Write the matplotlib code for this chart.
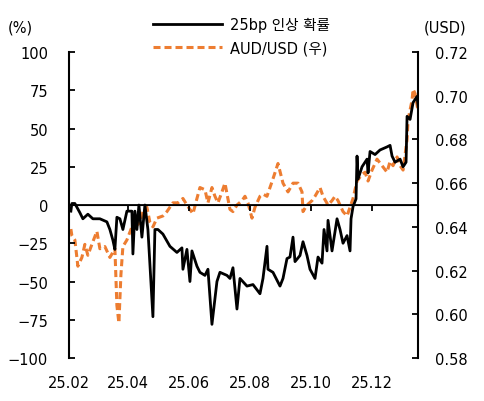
import matplotlib
matplotlib.use("Agg")
import matplotlib.pyplot as plt
import matplotlib.dates as mdates
import pandas as pd

plt.rcParams["font.family"] = ["DejaVu Sans", "Noto Sans CJK KR"]
plt.rcParams["axes.unicode_minus"] = True

# 25bp 인상 확률 (%), left axis
hike_dates = [
    "2025-02-03", "2025-02-04", "2025-02-07", "2025-02-12", "2025-02-15", "2025-02-20",
    "2025-02-25", "2025-03-04", "2025-03-11", "2025-03-14", "2025-03-17", "2025-03-19",
    "2025-03-21", "2025-03-24", "2025-03-27", "2025-03-31", "2025-04-05", "2025-04-06",
    "2025-04-08", "2025-04-10", "2025-04-12", "2025-04-15", "2025-04-18", "2025-04-21",
    "2025-04-26", "2025-04-28", "2025-05-01", "2025-05-06", "2025-05-13", "2025-05-20",
    "2025-05-25", "2025-05-26", "2025-05-30", "2025-06-02", "2025-06-04", "2025-06-09",
    "2025-06-12", "2025-06-17", "2025-06-20", "2025-06-24", "2025-06-29", "2025-07-02",
    "2025-07-09", "2025-07-12", "2025-07-15", "2025-07-19", "2025-07-22", "2025-07-29",
    "2025-08-04", "2025-08-11", "2025-08-14", "2025-08-18", "2025-08-19", "2025-08-24",
    "2025-08-31", "2025-09-03", "2025-09-07", "2025-09-10", "2025-09-13", "2025-09-15",
    "2025-09-20", "2025-09-23", "2025-09-27", "2025-09-30", "2025-10-05", "2025-10-08",
    "2025-10-12", "2025-10-14", "2025-10-17", "2025-10-18", "2025-10-22", "2025-10-27",
    "2025-10-30", "2025-11-02", "2025-11-06", "2025-11-09", "2025-11-10", "2025-11-12",
    "2025-11-15", "2025-11-16", "2025-11-17", "2025-11-21", "2025-11-26", "2025-11-27",
    "2025-11-29", "2025-12-04", "2025-12-09", "2025-12-16", "2025-12-19", "2025-12-21",
    "2025-12-24", "2025-12-29", "2026-01-01", "2026-01-04", "2026-01-05", "2026-01-08",
    "2026-01-11", "2026-01-15", "2026-01-16",
]
hike_prob = [
    -4, 1, 1, -5, -9, -6,
    -9, -9, -11, -16, -23, -29,
    -8, -9, -16, -4, -4, -32,
    -4, -16, 0, -21, 0, -16,
    -73, -16, -16, -19, -27, -31,
    -28, -42, -29, -50, -30, -40,
    -44, -46, -42, -78, -50, -44,
    -46, -48, -41, -68, -48, -53,
    -52, -58, -48, -27, -42, -44,
    -53, -48, -35, -34, -21, -37,
    -33, -24, -33, -42, -48, -34,
    -38, -16, -30, -10, -30, -9,
    -16, -25, -20, -30, -9, -1,
    4, 32, 17, 25, 30, 21,
    35, 33, 36, 38, 39, 32,
    28, 30, 25, 28, 58, 56,
    67, 71, 65,
]

# AUD/USD (우), right axis
aud_dates = [
    "2025-02-03", "2025-02-04", "2025-02-07", "2025-02-10", "2025-02-14", "2025-02-17",
    "2025-02-20", "2025-02-24", "2025-03-01", "2025-03-04", "2025-03-09", "2025-03-14",
    "2025-03-19", "2025-03-21", "2025-03-23", "2025-03-25", "2025-03-27", "2025-03-31",
    "2025-04-05", "2025-04-08", "2025-04-13", "2025-04-16", "2025-04-20", "2025-04-23",
    "2025-04-26", "2025-04-30", "2025-05-06", "2025-05-10", "2025-05-13", "2025-05-16",
    "2025-05-21", "2025-05-26", "2025-05-30", "2025-06-02", "2025-06-05", "2025-06-09",
    "2025-06-12", "2025-06-17", "2025-06-20", "2025-06-24", "2025-06-27", "2025-06-30",
    "2025-07-04", "2025-07-07", "2025-07-12", "2025-07-15", "2025-07-19", "2025-07-24",
    "2025-07-27", "2025-07-30", "2025-08-03", "2025-08-06", "2025-08-11", "2025-08-14",
    "2025-08-18", "2025-08-21", "2025-08-24", "2025-08-29", "2025-09-03", "2025-09-08",
    "2025-09-13", "2025-09-18", "2025-09-22", "2025-09-23", "2025-09-27", "2025-10-02",
    "2025-10-05", "2025-10-10", "2025-10-13", "2025-10-18", "2025-10-22", "2025-10-25",
    "2025-10-28", "2025-11-02", "2025-11-06", "2025-11-09", "2025-11-12", "2025-11-16",
    "2025-11-21", "2025-11-24", "2025-11-27", "2025-12-01", "2025-12-06", "2025-12-11",
    "2025-12-16", "2025-12-19", "2025-12-22", "2025-12-26", "2025-12-29", "2026-01-01",
    "2026-01-05", "2026-01-06", "2026-01-10", "2026-01-11", "2026-01-13", "2026-01-16",
]
aud_usd = [
    0.639, 0.636, 0.634, 0.622, 0.626, 0.632,
    0.627, 0.632, 0.638, 0.630, 0.631, 0.626,
    0.630, 0.604, 0.596, 0.618, 0.631, 0.634,
    0.640, 0.640, 0.642, 0.647, 0.649, 0.642,
    0.640, 0.644, 0.645, 0.647, 0.649, 0.651,
    0.651, 0.653, 0.650, 0.648, 0.646, 0.653,
    0.658, 0.657, 0.651, 0.658, 0.654, 0.651,
    0.656, 0.660, 0.648, 0.647, 0.650, 0.652,
    0.654, 0.651, 0.644, 0.649, 0.654, 0.655,
    0.654, 0.658, 0.662, 0.669, 0.660, 0.656,
    0.660, 0.660, 0.656, 0.647, 0.650, 0.652,
    0.654, 0.658, 0.654, 0.650, 0.652, 0.654,
    0.652, 0.647, 0.645, 0.649, 0.653, 0.661,
    0.664, 0.665, 0.661, 0.666, 0.671, 0.668,
    0.665, 0.670, 0.668, 0.672, 0.668, 0.666,
    0.680, 0.689, 0.698, 0.703, 0.701, 0.693,
]

x_ticks = ["2025-02-01", "2025-04-01", "2025-06-01", "2025-08-01", "2025-10-01", "2025-12-01"]

FS = 10.5

fig = plt.figure(figsize=(4.85, 4.02), dpi=100)
ax = fig.add_axes([0.142, 0.107, 0.720, 0.761])
ax2 = ax.twinx()

l1, = ax.plot(pd.to_datetime(hike_dates), hike_prob, color="black", lw=2.0,
              label="25bp 인상 확률", zorder=3)
l2, = ax2.plot(pd.to_datetime(aud_dates), aud_usd, color="#ED7D31", lw=2.2,
               ls=(0, (2.3, 1.3)), label="AUD/USD (우)", zorder=2)
ax.set_zorder(ax2.get_zorder() + 1)
ax.patch.set_visible(False)

ax.set_xlim(pd.Timestamp("2025-02-01"), pd.Timestamp("2026-01-16"))
ax.set_ylim(-100, 100)
ax.set_yticks([-100, -75, -50, -25, 0, 25, 50, 75, 100])
ax2.set_ylim(0.58, 0.72)
ax2.set_yticks([0.58, 0.60, 0.62, 0.64, 0.66, 0.68, 0.70, 0.72])
ax2.yaxis.set_major_formatter(matplotlib.ticker.FormatStrFormatter("%.2f"))

for a in (ax, ax2):
    a.spines["top"].set_visible(False)
    a.spines["bottom"].set_visible(False)
    for s in ("left", "right"):
        a.spines[s].set_linewidth(1.5)
ax.spines["right"].set_visible(False)
ax2.spines["left"].set_visible(False)

ax.tick_params(axis="y", direction="in", length=4, width=1.3, labelsize=FS, pad=15)
ax2.tick_params(axis="y", direction="in", length=4, width=1.3, labelsize=FS, pad=12)

ticks = pd.to_datetime(x_ticks)
ax.set_xticks(ticks)
ax.xaxis.set_major_formatter(mdates.DateFormatter("%y.%m"))
ax.tick_params(axis="x", length=0, labelsize=FS, pad=12)

# zero line with small upward ticks
ax.axhline(0, color="black", lw=1.3, zorder=1)
sec = ax.secondary_xaxis(0.5)
sec.set_xticks(ticks, labels=[""] * len(ticks))
sec.tick_params(axis="x", direction="in", length=4, width=1.3)
sec.spines["bottom"].set_visible(False)

fig.text(8 / 485, 1 - 28 / 402, "(%)", fontsize=FS, va="center", ha="left")
fig.text(466 / 485, 1 - 28 / 402, "(USD)", fontsize=FS, va="center", ha="right")

fig.legend(handles=[l1, l2], loc="upper left", bbox_to_anchor=(153 / 485, 1 - 18 / 402),
           frameon=False, fontsize=FS, handlelength=4.7, labelspacing=0.55,
           handletextpad=0.55, borderpad=0, borderaxespad=0)

fig.savefig("out.png", dpi=100)
